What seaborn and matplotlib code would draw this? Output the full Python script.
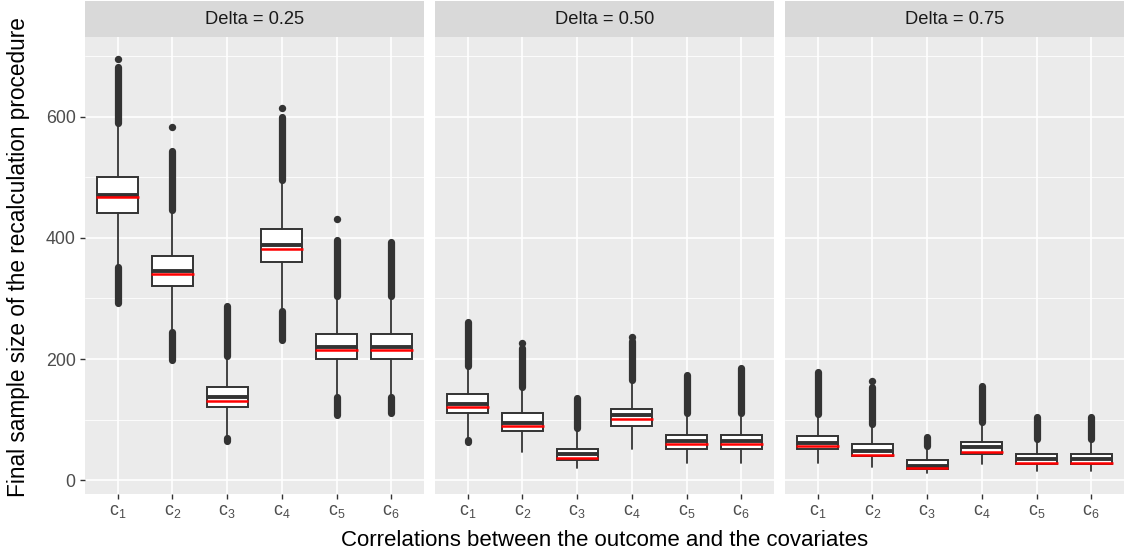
import matplotlib
matplotlib.use("Agg")
import matplotlib.pyplot as plt
import numpy as np
import pandas as pd
import seaborn as sns

# ---------------- data ----------------
facets = ["Delta = 0.25", "Delta = 0.50", "Delta = 0.75"]
categories = ["c1", "c2", "c3", "c4", "c5", "c6"]
tick_labels = [r"$\mathregular{c_%d}$" % i for i in range(1, 7)]

q1_vals = [[442, 320, 121, 361, 200, 200],
           [110, 81, 33, 90, 52, 52],
           [51, 39, 18, 43, 26, 26]]
median_vals = [[471, 345, 137, 388, 220, 220],
               [126, 95, 43, 107, 64, 64],
               [62, 48, 24, 55, 34, 34]]
q3_vals = [[501, 370, 153, 414, 241, 241],
           [142, 110, 52, 118, 75, 75],
           [73, 60, 33, 63, 43, 43]]
mean_vals = [[467, 340, 131, 382, 215, 215],
             [121, 89, 37, 101, 59, 59],
             [57, 42, 20, 47, 29, 29]]
whisker_lo = [[356, 249, 72, 284, 142, 142],
              [67, 46, 20, 52, 29, 29],
              [29, 22, 12, 26, 15, 15]]
whisker_hi = [[586, 442, 200, 491, 299, 299],
              [184, 148, 81, 160, 105, 105],
              [104, 87, 51, 91, 63, 63]]
# dense outlier runs (lower end, upper end); None = no outliers
out_hi_lo = [[590, 447, 205, 496, 304, 304],
             [188, 153, 86, 165, 110, 110],
             [109, 92, 56, 96, 68, 68]]
out_hi_hi = [[682, 543, 287, 600, 397, 393],
             [261, 218, 135, 229, 174, 185],
             [178, 154, 71, 155, 104, 104]]
out_lo_lo = [[293, 198, 65, 231, 107, 110],
             [63, None, None, None, None, None],
             [None, None, None, None, None, None]]
out_lo_hi = [[352, 244, 69, 279, 137, 137],
             [66, None, None, None, None, None],
             [None, None, None, None, None, None]]
# isolated extreme points
extreme_pts = [[696, 583, None, 614, 432, None],
               [None, 227, None, 237, None, None],
               [None, 163, None, None, None, None]]

# ---------------- style ----------------
sns.set_theme(style="darkgrid", rc={
    "axes.facecolor": "#EBEBEB",
    "grid.color": "white",
    "axes.edgecolor": "#EBEBEB",
})
plt.rcParams["font.family"] = ["Liberation Sans", "DejaVu Sans"]
plt.rcParams["mathtext.fontset"] = "custom"
plt.rcParams["mathtext.rm"] = "Liberation Sans"
plt.rcParams["mathtext.it"] = "Liberation Sans:italic"

DARK = "#333333"
W, H = 1126, 558
fig = plt.figure(figsize=(W / 100, H / 100), dpi=100)

panel_left = [85, 435, 785]
panel_w = 339
top_px, bottom_px, strip_top = 37, 494, 1

positions = np.arange(len(categories))
axes = []
for k, name in enumerate(facets):
    l = panel_left[k] / W
    b = 1 - bottom_px / H
    h = (bottom_px - top_px) / H
    ax = fig.add_axes([l, b, panel_w / W, h])
    axes.append(ax)
    # strip
    sax = fig.add_axes([l, 1 - top_px / H, panel_w / W, (top_px - strip_top) / H])
    sax.set_facecolor("#D9D9D9")
    sax.set_xticks([]); sax.set_yticks([])
    sax.grid(False)
    for s in sax.spines.values():
        s.set_visible(False)
    sax.text(0.5, 0.5, name, ha="center", va="center", fontsize=13.2,
             color="#1A1A1A", transform=sax.transAxes)

    stats = []
    for i in range(len(categories)):
        stats.append(dict(q1=q1_vals[k][i], med=median_vals[k][i], q3=q3_vals[k][i],
                          whislo=whisker_lo[k][i], whishi=whisker_hi[k][i],
                          fliers=[], label=categories[i]))

    # outliers
    for i in range(len(categories)):
        x = positions[i]
        ax.plot([x, x], [out_hi_lo[k][i], out_hi_hi[k][i]], color=DARK, lw=5.2,
                solid_capstyle="round", zorder=2)
        if out_lo_lo[k][i] is not None:
            ax.plot([x, x], [out_lo_lo[k][i], out_lo_hi[k][i]], color=DARK, lw=5.2,
                    solid_capstyle="round", zorder=2)
        if extreme_pts[k][i] is not None:
            ax.plot(x, extreme_pts[k][i], "o", ms=5.3, color=DARK, mew=0, zorder=2)

    ax.bxp(stats, positions=positions, widths=0.75, patch_artist=True,
           showcaps=False, showfliers=False, manage_ticks=False,
           boxprops=dict(facecolor="white", edgecolor=DARK, linewidth=1.4),
           whiskerprops=dict(color=DARK, linewidth=1.3),
           medianprops=dict(color=DARK, linewidth=2.8, solid_capstyle="butt"),
           zorder=3)
    ax.hlines(mean_vals[k], positions - 0.39, positions + 0.39, color="red",
              linewidth=1.8, zorder=4)

    ax.set_xlim(-0.6, 5.6)
    ax.set_ylim(-23, 732)
    ax.set_xticks(positions)
    ax.set_xticklabels(tick_labels, fontsize=13, color="#4D4D4D")
    ax.set_yticks([0, 200, 400, 600])
    ax.set_yticks([100, 300, 500, 700], minor=True)
    ax.grid(which="major", color="white", linewidth=1.2)
    ax.grid(which="minor", axis="y", color="white", linewidth=0.6)
    ax.tick_params(axis="both", which="major", length=3.6, width=1.0, color=DARK,
                   labelsize=12.8, labelcolor="#4D4D4D", pad=3.2,
                   bottom=True, left=(k == 0))
    ax.tick_params(axis="both", which="minor", length=0)
    if k > 0:
        ax.set_yticklabels([])
    for s in ax.spines.values():
        s.set_visible(False)
    ax.set_axisbelow(True)

fig.text((85 + 1124) / 2 / W, 1 - 540 / H, "Correlations between the outcome and the covariates",
         ha="center", va="center", fontsize=16, color="black")
fig.text(19 / W, 1 - 257 / H, "Final sample size of the recalculation procedure",
         ha="center", va="center", rotation=90, fontsize=16.3, color="black")

fig.savefig("out.png", dpi=100)
